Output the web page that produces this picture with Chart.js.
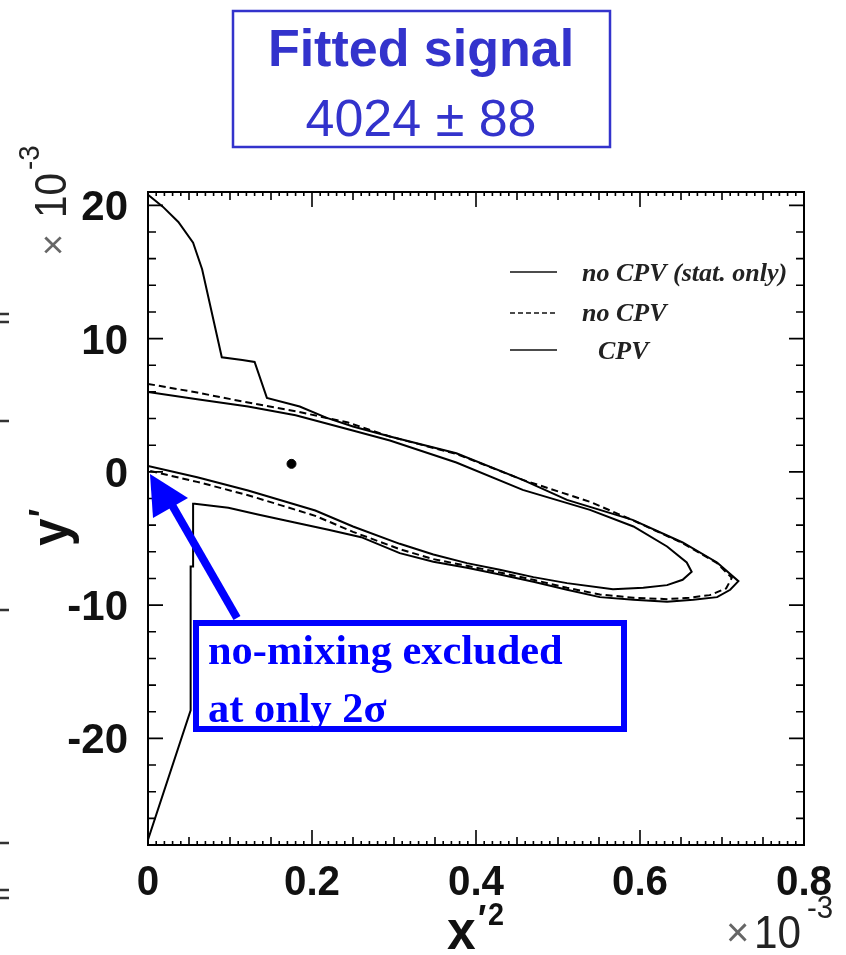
<!DOCTYPE html>
<html>
<head>
<meta charset="utf-8">
<script src="https://cdn.jsdelivr.net/npm/chart.js@4"></script>
<style>
  body { margin: 0; background: #fff; }
  #c { display: block; }
</style>
</head>
<body>
<canvas id="c" width="846" height="955"></canvas>
<script>
// contour: no CPV (stat. only), solid, inner
const statX = [0, 0.06, 0.122, 0.18, 0.244, 0.295, 0.376, 0.457, 0.539, 0.592, 0.633, 0.657, 0.663,
  0.652, 0.633, 0.604, 0.567, 0.511, 0.47, 0.429, 0.389, 0.348, 0.307, 0.25, 0.204, 0.122, 0.06, 0];
const statY = [6.0, 5.45, 4.9, 4.25, 3.2, 2.35, 0.7, -1.35, -2.85, -4.1, -5.6, -6.8, -7.5,
  -8.1, -8.5, -8.7, -8.8, -8.35, -7.9, -7.35, -6.85, -6.2, -5.4, -4.1, -2.9, -1.4, -0.4, 0.45];

// contour: no CPV, dashed
const noCpvX = [0, 0.06, 0.122, 0.18, 0.244, 0.295, 0.376, 0.457, 0.539, 0.592, 0.652, 0.694, 0.712,
  0.705, 0.685, 0.66, 0.633, 0.592, 0.551, 0.511, 0.47, 0.429, 0.389, 0.348, 0.307, 0.25, 0.204, 0.122, 0.06, 0];
const noCpvY = [6.6, 5.95, 5.2, 4.55, 3.7, 2.65, 1.35, -0.6, -2.25, -3.65, -5.35, -6.85, -7.95,
  -8.75, -9.25, -9.45, -9.55, -9.45, -9.2, -8.7, -8.1, -7.55, -7.05, -6.55, -5.8, -4.5, -3.3, -1.75, -0.75, 0.1];

// contour: CPV, solid, outer
const cpvX = [0, 0.018, 0.037, 0.055, 0.066, 0.09, 0.115, 0.13, 0.145, 0.185, 0.218, 0.25, 0.295, 0.376,
  0.457, 0.511, 0.591, 0.652, 0.694, 0.72, 0.71, 0.694, 0.665, 0.633, 0.592, 0.551, 0.511, 0.47, 0.429,
  0.389, 0.348, 0.307, 0.26, 0.22, 0.179, 0.134, 0.098, 0.057, 0.055, 0.055, 0.052, 0.052, 0];
const cpvY = [20.8, 19.9, 18.75, 17.2, 15.2, 8.6, 8.4, 8.25, 5.55, 4.9, 4.05, 3.4, 2.65, 1.4,
  -0.6, -2.1, -3.6, -5.3, -6.8, -8.2, -8.85, -9.4, -9.6, -9.75, -9.6, -9.4, -8.85, -8.25, -7.7,
  -7.2, -6.75, -6.1, -4.9, -4.35, -3.8, -3.2, -2.7, -2.4, -2.4, -7.1, -7.1, -17.9, -27.6];

// best fit point
const fitX = [0.175];
const fitY = [0.6];

// axes
const xTicks = [0, 0.2, 0.4, 0.6, 0.8];
const xTickLabels = ['0', '0.2', '0.4', '0.6', '0.8'];
const yTicks = [20, 10, 0, -10, -20];
const yTickLabels = ['20', '10', '0', '-10', '-20'];

const legendLabels = ['no CPV (stat. only)', 'no CPV', 'CPV'];

const toPts = (xs, ys) => xs.map((x, i) => ({ x: x, y: ys[i] }));

// text with horizontal squeeze
function txt(ctx, s, x, y, font, align, sx, color) {
  ctx.save();
  ctx.translate(x, y);
  ctx.scale(sx, 1);
  ctx.font = font;
  ctx.textAlign = align;
  ctx.textBaseline = 'alphabetic';
  ctx.fillStyle = color;
  ctx.fillText(s, 0, 0);
  ctx.restore();
}

const framePlugin = {
  id: 'frame',
  afterDraw(chart) {
    const ctx = chart.ctx;
    const a = chart.chartArea;
    const xs = chart.scales.x, ys = chart.scales.y;

    ctx.save();
    // frame
    ctx.strokeStyle = '#000';
    ctx.lineWidth = 2;
    ctx.strokeRect(a.left, a.top, a.right - a.left, a.bottom - a.top);

    // x ticks (top and bottom)
    ctx.lineWidth = 1.6;
    ctx.beginPath();
    for (let i = 0; i <= 80; i++) {
      const px = xs.getPixelForValue(i / 100);
      const len = i % 20 === 0 ? 15 : (i % 5 === 0 ? 8 : 4);
      ctx.moveTo(px, a.bottom); ctx.lineTo(px, a.bottom - len);
      ctx.moveTo(px, a.top); ctx.lineTo(px, a.top + len);
    }
    // y ticks (left and right)
    for (let v = -28; v <= 20; v += 2) {
      const py = ys.getPixelForValue(v);
      const len = v % 10 === 0 ? 15 : 8;
      ctx.moveTo(a.left, py); ctx.lineTo(a.left + len, py);
      ctx.moveTo(a.right, py); ctx.lineTo(a.right - len, py);
    }
    ctx.stroke();

    // tick labels
    xTicks.forEach((v, i) => {
      txt(ctx, xTickLabels[i], xs.getPixelForValue(v), 895, 'bold 42px "Liberation Sans"', 'center', 0.96, '#111');
    });
    yTicks.forEach((v, i) => {
      txt(ctx, yTickLabels[i], 128, ys.getPixelForValue(v) + 15, 'bold 42px "Liberation Sans"', 'right', 1, '#111');
    });

    // x axis title
    txt(ctx, 'x', 447, 949, 'bold 56px "Liberation Sans"', 'left', 0.92, '#111');
    txt(ctx, '\u2032', 478, 932, 'bold 38px "Liberation Sans"', 'left', 0.9, '#111');
    txt(ctx, '2', 488, 925, 'bold 32px "Liberation Sans"', 'left', 0.9, '#111');
    // x exponent
    txt(ctx, '\u00d7', 726, 946, '40px "Liberation Sans"', 'left', 1, '#666');
    txt(ctx, '10', 754, 948, '46px "Liberation Sans"', 'left', 0.92, '#222');
    txt(ctx, '-3', 807, 918, '32px "Liberation Sans"', 'left', 0.92, '#222');

    // y axis title (rotated)
    ctx.save();
    ctx.translate(68, 546);
    ctx.rotate(-Math.PI / 2);
    txt(ctx, 'y', 0, 0, 'bold 54px "Liberation Sans"', 'left', 0.92, '#111');
    txt(ctx, '\u2032', 29, -12, 'bold 38px "Liberation Sans"', 'left', 0.9, '#111');
    ctx.restore();
    // y exponent (rotated)
    ctx.save();
    ctx.translate(66, 256);
    ctx.rotate(-Math.PI / 2);
    txt(ctx, '\u00d7', 0, 0, '38px "Liberation Sans"', 'left', 1, '#666');
    txt(ctx, '10', 38, 0, '44px "Liberation Sans"', 'left', 0.92, '#222');
    txt(ctx, '-3', 86, -27, '30px "Liberation Sans"', 'left', 0.92, '#222');
    ctx.restore();

    // legend
    const rows = [272, 313, 350];
    const dashes = [[], [5, 3], []];
    ctx.strokeStyle = '#111';
    ctx.lineWidth = 1.6;
    rows.forEach((ry, i) => {
      ctx.setLineDash(dashes[i]);
      ctx.beginPath(); ctx.moveTo(510, ry); ctx.lineTo(557, ry); ctx.stroke();
    });
    ctx.setLineDash([]);
    ctx.save();
    ctx.beginPath(); ctx.rect(a.left, a.top, a.right - a.left - 2, a.bottom - a.top); ctx.clip();
    txt(ctx, legendLabels[0], 582, 281, 'italic bold 26px "Liberation Serif"', 'left', 1, '#222');
    txt(ctx, legendLabels[1], 582, 321, 'italic bold 26px "Liberation Serif"', 'left', 1, '#222');
    txt(ctx, legendLabels[2], 598, 359, 'italic bold 26px "Liberation Serif"', 'left', 1, '#222');
    ctx.restore();

    // annotation box and arrow
    ctx.strokeStyle = '#0000ff';
    ctx.fillStyle = '#0000ff';
    ctx.lineWidth = 6;
    ctx.strokeRect(196, 623, 428, 106);
    ctx.lineWidth = 8;
    ctx.beginPath(); ctx.moveTo(237, 618); ctx.lineTo(172, 505); ctx.stroke();
    ctx.beginPath();
    ctx.moveTo(150, 474); ctx.lineTo(153, 518); ctx.lineTo(188, 498); ctx.closePath(); ctx.fill();
    txt(ctx, 'no-mixing excluded', 208, 664, 'bold 42px "Liberation Serif"', 'left', 1.01, '#0000ff');
    txt(ctx, 'at only 2\u03c3', 208, 722, 'bold 42px "Liberation Serif"', 'left', 1.01, '#0000ff');

    // title box
    ctx.strokeStyle = '#3333cc';
    ctx.lineWidth = 2.5;
    ctx.strokeRect(233, 11, 377, 136);
    txt(ctx, 'Fitted signal', 421, 66, 'bold 52px "Liberation Sans"', 'center', 1, '#3333cc');
    txt(ctx, '4024 \u00b1 88', 421, 136, '52px "Liberation Sans"', 'center', 1, '#3333cc');

    // stray marks at the left edge
    ctx.strokeStyle = '#333';
    ctx.lineWidth = 2.5;
    ctx.beginPath();
    [314, 322, 421, 610, 843, 890, 898].forEach(my => { ctx.moveTo(0, my); ctx.lineTo(9, my); });
    ctx.stroke();
    ctx.restore();
  }
};

new Chart(document.getElementById('c'), {
  type: 'scatter',
  data: {
    datasets: [
      {
        label: 'CPV',
        data: toPts(cpvX, cpvY),
        showLine: true,
        borderColor: '#000',
        borderWidth: 2,
        pointRadius: 0,
        tension: 0
      },
      {
        label: 'no CPV',
        data: toPts(noCpvX, noCpvY),
        showLine: true,
        borderColor: '#000',
        borderWidth: 2,
        borderDash: [7, 4],
        pointRadius: 0,
        tension: 0
      },
      {
        label: 'no CPV (stat. only)',
        data: toPts(statX, statY),
        showLine: true,
        borderColor: '#000',
        borderWidth: 2,
        pointRadius: 0,
        tension: 0
      },
      {
        label: 'fit',
        data: toPts(fitX, fitY),
        showLine: false,
        backgroundColor: '#000',
        borderColor: '#000',
        pointRadius: 4.5
      }
    ]
  },
  options: {
    responsive: false,
    animation: false,
    layout: { padding: { left: 148, right: 42, top: 192, bottom: 110 } },
    plugins: { legend: { display: false }, tooltip: { enabled: false } },
    scales: {
      x: { type: 'linear', min: 0, max: 0.8, display: false },
      y: { type: 'linear', min: -28, max: 21, display: false }
    }
  },
  plugins: [framePlugin]
});
</script>
</body>
</html>
